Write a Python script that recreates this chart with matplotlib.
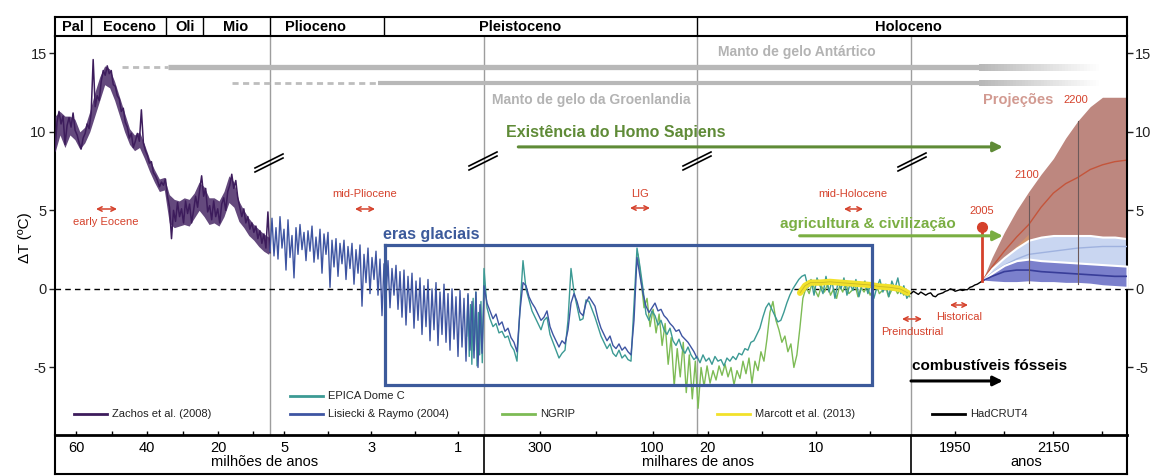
import numpy as np
import matplotlib
matplotlib.use('Agg')
import matplotlib.pyplot as plt
from matplotlib.lines import Line2D
from matplotlib.collections import LineCollection

plt.rcParams['font.family'] = ['Liberation Sans', 'DejaVu Sans']
plt.rcParams['axes.unicode_minus'] = False

W, H = 1153, 476

# ---------------------------------------------------------------- data
def Ma(a):
    return 1950 - np.asarray(a, dtype=float) * 1e6

def ka(a):
    return 1950 - np.asarray(a, dtype=float) * 1e3

# broken time axis (years CE) -> horizontal position
T_BP = [float(Ma(66)), float(Ma(5.33)), float(Ma(0.4)), float(ka(21)), 750.0, 1860.0, 2300.0]
X_BP = [55, 270, 484, 697, 910.9, 911, 1127]

epoch_names = ['Pal', 'Eoceno', 'Oli', 'Mio', 'Plioceno', 'Pleistoceno', 'Holoceno']
epoch_bounds = [Ma(55.9), Ma(34.6), Ma(24.2), Ma(5.33), Ma(2.7), ka(21)]

tick_major = [Ma(60), Ma(40), Ma(20), Ma(5), Ma(3), Ma(1), ka(300), ka(100), ka(20), ka(10), 1950, 2150]
tick_labels = ['60', '40', '20', '5', '3', '1', '300', '100', '20', '10', '1950', '2150']
tick_minor = [Ma(50), Ma(30), Ma(10), Ma(4), Ma(2), ka(200), ka(15), ka(5), 2050, 2250]

# Zachos et al. (2008), 66 -> 5.3 Ma
zachos_dT = [8.8, 10.6, 11.3, 10.5, 11.0, 9.2, 10.4, 10.9, 10.3, 11.2, 10.1, 9.8, 9.3, 8.9, 9.6,
             9.9, 10.5, 10.2, 11.2, 14.6, 11.6, 12.3, 12.0, 13.2, 13.9, 13.6, 14.2, 13.7, 13.9,
             13.0, 12.9, 12.3, 12.1, 11.3, 11.5, 10.6, 10.3, 9.6, 9.9, 9.0, 9.4, 9.9, 9.4, 11.4,
             9.3, 8.8, 8.5, 8.0, 8.1, 7.4, 7.2, 6.9, 6.5, 6.8, 6.6, 7.0, 5.9, 5.2, 3.2, 5.0, 4.3,
             5.5, 4.6, 5.1, 4.2, 5.6, 4.8, 5.4, 4.2, 5.0, 5.9, 5.2, 6.3, 7.2, 5.9, 6.4, 4.9, 5.3,
             4.4, 5.6, 4.6, 5.1, 4.2, 5.4, 5.8, 5.0, 6.2, 6.6, 7.3, 6.4, 6.9, 5.8, 5.2, 4.6, 5.1,
             4.2, 4.6, 3.8, 4.2, 3.6, 4.0, 3.2, 3.7, 2.9, 3.5, 2.6, 4.9, 2.3]
zachos_age_Ma = np.linspace(66, 5.35, len(zachos_dT))
# spread (envelope) of the Zachos record
zachos_upper = [11.0, 11.3, 11.0, 11.0, 10.8, 10.0, 10.3, 11.3, 12.5, 13.5, 14.2, 14.0, 13.2, 12.2,
                11.2, 10.2, 9.8, 10.0, 9.2, 8.3, 7.6, 7.0, 7.1, 6.0, 5.7, 5.6, 5.8, 5.7, 6.1, 6.8,
                6.5, 5.8, 5.8, 5.6, 6.2, 7.2, 6.8, 5.6, 5.0, 4.5, 4.1, 3.8, 3.5, 3.3]
zachos_lower = [8.7, 9.8, 9.0, 9.8, 9.5, 8.9, 9.3, 10.0, 11.0, 12.0, 13.0, 12.8, 12.0, 11.0, 10.0,
                9.2, 8.8, 9.0, 8.3, 7.5, 6.8, 6.2, 6.3, 4.2, 3.9, 4.0, 4.1, 4.0, 4.5, 5.0, 4.6,
                4.1, 4.2, 4.0, 4.6, 5.5, 5.2, 4.3, 3.9, 3.4, 3.1, 2.7, 2.4, 2.2]
zachos_env_age_Ma = np.linspace(66, 5.7, len(zachos_upper))

# Lisiecki & Raymo (2004): 5.33 -> 0.4 Ma, then 400 -> 21 ka
lr04_b_dT = [2.4, 4.5, 2.1, 3.9, 1.9, 4.6, 2.6, 3.8, 1.2, 4.4, 2.0, 3.4, 0.7, 3.9, 2.2, 4.1, 2.5,
             3.6, 1.8, 3.7, 2.4, 4.0, 1.7, 3.3, 1.9, 3.8, 1.0, 3.5, 2.2, 3.6, 0.1, 3.1, 1.4, 3.2,
             0.8, 2.9, 1.6, 3.1, 0.6, 2.7, 1.3, 2.9, 0.3, 2.5, 1.0, 2.8, -1.1, 2.2, 0.4, 2.6, -0.3,
             2.0, 0.6, 2.4, -0.4, 1.9, -1.7, 1.6, -0.6, 1.8, -1.2, 1.3, -0.4, 1.5, -1.3, 1.1, -1.8,
             1.2, -2.3, 0.8, -1.5, 1.0, -2.5, 0.5, -2.0, 0.7, -2.9, 0.2, -2.4, 0.6, -3.3, 0.0,
             -2.6, 0.4, -3.6, -0.2, -2.9, 0.3, -3.4, -0.3, -3.9, 0.0, -3.2, -0.5, -4.3, -0.1,
             -3.7, -0.6, -4.6, -0.3, -3.9, -0.8, -4.4, -0.2, -5.0, -1.0, -4.1, -0.5]
lr04_b_age_Ma = np.linspace(5.33, 0.4, len(lr04_b_dT))
lr04_c_dT = [0.2, -0.9, -1.4, -1.9, -1.6, -2.3, -2.1, -2.7, -2.5, -3.1, -3.4, -4.0, -1.4, 0.4, 0.2,
             -0.5, -0.9, -1.2, -1.6, -2.0, -1.8, -1.4, -2.4, -2.9, -3.3, -3.7, -3.3, -3.5, -2.6,
             -0.9, -0.3, -0.8, -1.5, -1.7, -0.9, -0.5, -0.8, -1.1, -1.9, -2.5, -2.9, -3.3, -3.0,
             -3.6, -3.8, -3.5, -3.9, -3.7, -4.0, -4.2, -2.0, 2.0, 0.8, -0.3, -1.1, -1.5, -1.2,
             -0.9, -1.4, -1.3, -1.7, -1.9, -2.2, -2.4, -2.7, -2.6, -3.0, -3.2, -3.4, -3.7, -4.0, -4.4]
lr04_c_age_ka = np.linspace(400, 21, len(lr04_c_dT))

# EPICA Dome C
epica_b_ka = [800, 770, 740, 710, 680, 650, 620, 590, 560, 530, 500, 470, 440, 420, 402]
epica_b_dT = [-3.0, -0.4, -4.3, -1.0, -4.8, -0.6, -3.9, -0.2, -4.9, -1.5, -4.2, -0.8, -4.7, -1.8, 1.3]
epica_c_dT = [1.3, -1.2, -1.9, -2.4, -2.2, -2.8, -2.7, -3.1, -3.0, -3.6, -3.9, -4.6, -1.2, 1.8, 0.0,
              -0.7, -1.4, -1.8, -2.2, -2.6, -2.0, -1.8, -2.9, -3.4, -3.9, -4.4, -4.1, -3.9, -2.0,
              1.3, -0.2, -1.1, -2.0, -1.9, -0.7, -0.8, -1.3, -1.8, -2.4, -3.0, -3.4, -3.8, -3.5,
              -4.1, -4.3, -3.9, -4.4, -4.2, -4.5, -4.6, -1.0, 2.6, 1.4, 0.0, -1.6, -2.0, -1.4, -1.7,
              -2.3, -2.0, -2.6, -2.9, -2.5, -3.3, -3.6, -3.2, -3.8, -4.1, -3.7, -4.2, -4.5, -4.3]
epica_c_age_ka = np.linspace(400, 21, len(epica_c_dT))
epica_d_dT = [-4.3, -4.7, -4.2, -4.6, -4.4, -4.8, -4.3, -4.6, -4.5, -4.9, -4.4, -4.6, -4.3, -4.5,
              -4.1, -4.2, -3.8, -3.9, -3.4, -3.3, -2.9, -2.5, -1.8, -1.2, -0.9, -1.3, -1.7, -2.1,
              -2.0, -1.5, -0.9, -0.4, 0.0, 0.3, 0.6, 0.8]
epica_d_age_ka = np.linspace(21, 11.3, len(epica_d_dT))
epica_h_dT = [0.9, 0.1, 0.6, -0.4, 0.7, 0.2, -0.3, 0.8, -0.2, 0.5, -0.6, 0.4, 0.0, 0.7, -0.4, 0.3,
              -0.1, 0.6, -0.5, 0.2, 0.5, -0.3, 0.4, -0.6, 0.1, 0.6, -0.2, 0.3, -0.5, 0.5, 0.0, 0.7,
              -0.3, 0.2, -0.6, -0.3]
epica_h_age_ka = np.linspace(11.0, 1.3, len(epica_h_dT))

# NGRIP
ngrip_c_dT = [2.2, 0.6, -1.2, -0.6, -2.4, -1.3, -2.8, -1.6, -3.6, -2.2, -4.8, -3.1, -6.2, -3.8,
              -5.6, -3.4, -6.6, -4.2, -7.0, -4.6]
ngrip_c_age_ka = np.linspace(126, 24, len(ngrip_c_dT))
ngrip_d_dT = [-7.6, -5.0, -6.2, -4.9, -6.0, -5.2, -5.8, -4.9, -5.5, -4.8, -5.6, -5.0, -6.1, -5.2,
              -5.7, -4.6, -5.4, -4.4, -6.0, -4.6, -5.2, -4.0, -4.6, -3.2, -1.5, -0.8, -2.0, -2.6,
              -3.4, -3.0, -4.0, -3.5, -5.0, -4.2, -2.5, -0.6]
ngrip_d_age_ka = np.linspace(20.9, 11.2, len(ngrip_d_dT))
ngrip_h_dT = [0.1, -0.3, 0.4, -0.1, -0.5, 0.2, -0.2, 0.3, -0.4, 0.0, -0.6, 0.2, -0.2, 0.4, -0.3,
              -0.1, 0.3, -0.5, 0.1, -0.2, 0.2, -0.4, 0.0, 0.3, -0.3, -0.1, 0.2, -0.5, -0.1, 0.1,
              -0.3, 0.0, -0.4, -0.2, -0.5]
ngrip_h_age_ka = np.linspace(10.9, 1.3, len(ngrip_h_dT))

# Marcott et al. (2013)
marcott_ka = [11.46, 11.0, 10.5, 9.6, 8.7, 7.8, 6.8, 5.9, 5.0, 4.1, 3.1, 2.2, 1.5]
marcott_dT = [-0.25, 0.2, 0.4, 0.4, 0.45, 0.4, 0.35, 0.3, 0.25, 0.15, 0.1, 0.0, -0.25]

# HadCRUT4
hadcrut_year = list(range(1860, 2006, 5))
hadcrut_dT = [-0.30, -0.15, -0.25, -0.35, -0.20, -0.30, -0.40, -0.30, -0.25, -0.45, -0.50, -0.35,
              -0.30, -0.25, -0.15, -0.10, 0.00, -0.05, -0.15, -0.10, -0.05, -0.10, -0.05, -0.05,
              0.10, 0.15, 0.25, 0.30, 0.40, 0.50]

# projections
proj_year = [2005, 2025, 2050, 2075, 2100, 2125, 2150, 2175, 2200, 2225, 2250, 2275, 2300]
high_upper = [0.5, 2.0, 3.6, 5.0, 6.2, 7.3, 8.3, 9.6, 10.7, 11.6, 12.2, 12.2, 12.2]
high_lower = [0.5, 0.9, 1.4, 1.9, 2.3, 2.5, 2.6, 2.6, 2.6, 2.6, 2.6, 2.6, 2.6]
high_mid = [0.5, 1.4, 2.4, 3.3, 4.1, 5.2, 6.1, 6.7, 7.1, 7.6, 7.9, 8.1, 8.2]
mid_upper = [0.5, 1.3, 2.0, 2.6, 3.1, 3.3, 3.4, 3.4, 3.4, 3.4, 3.3, 3.3, 3.2]
mid_lower = [0.5, 0.8, 1.1, 1.3, 1.45, 1.5, 1.5, 1.5, 1.5, 1.5, 1.45, 1.45, 1.4]
mid_mid = [0.5, 1.0, 1.5, 1.9, 2.2, 2.3, 2.4, 2.5, 2.6, 2.65, 2.7, 2.7, 2.7]
orange_year = [2005, 2050, 2100]
orange_upper = [0.5, 2.0, 3.5]
orange_lower = [0.5, 1.2, 1.6]
low_upper = [0.5, 1.0, 1.5, 1.8, 1.9, 1.8, 1.75, 1.7, 1.65, 1.6, 1.55, 1.5, 1.45]
low_lower = [0.5, 0.45, 0.4, 0.4, 0.45, 0.4, 0.4, 0.35, 0.35, 0.3, 0.2, 0.15, 0.1]
low_mid = [0.5, 0.8, 1.1, 1.2, 1.2, 1.1, 1.05, 1.0, 0.95, 0.9, 0.85, 0.8, 0.8]

# colours
C_ZACHOS = '#3d1c5c'
C_LR04 = '#3e55a2'
C_EPICA = '#3c9a94'
C_NGRIP = '#7dbb55'
C_MARCOTT = '#f2e12a'
RED = '#d5412b'
GRAY = '#b8b8b8'
GREEN_D = '#5f8b37'
GREEN_L = '#7aae42'
BLUE_BOX = '#3c5a9b'

# ---------------------------------------------------------------- figure
def fwd(t):
    return np.interp(t, T_BP, X_BP)

def inv(x):
    return np.interp(x, X_BP, T_BP)

fig = plt.figure(figsize=(W / 100, H / 100), dpi=100)

def fx(px):
    return px / W

def fy(py):
    return 1 - py / H

ax = fig.add_axes([fx(55), fy(435), (1127 - 55) / W, (435 - 36) / H])
axbar = fig.add_axes([fx(55), fy(36), (1127 - 55) / W, (36 - 17) / H])
axbot = fig.add_axes([fx(55), fy(474), (1127 - 55) / W, (474 - 435) / H])
for a in (ax, axbar, axbot):
    a.set_xscale('function', functions=(fwd, inv))
    a.set_xlim(T_BP[0], T_BP[-1])

ax.set_ylim(-9.3, 16.1)
ax.spines['top'].set_visible(False)
for s in ('left', 'right'):
    ax.spines[s].set_linewidth(1.5)
ax.spines['bottom'].set_linewidth(2)
ax.set_yticks([-5, 0, 5, 10, 15])
ax.set_yticklabels(['-5', '0', '5', '10', '15'])
ax.tick_params(axis='y', direction='out', length=4, width=1, left=True, right=True,
               labelleft=True, labelright=True, labelsize=10.5, pad=2, colors='#222222')
ax.set_xticks(tick_major)
ax.set_xticklabels(tick_labels)
ax.set_xticks(tick_minor, minor=True)
ax.tick_params(axis='x', which='both', direction='in', length=3, width=1, top=False,
               labelsize=10.5, pad=4)
ax.tick_params(axis='x', which='minor', labelbottom=False)

# epoch bar
axbar.set_ylim(0, 1)
axbar.set_xticks([]); axbar.set_yticks([])
axbar.set_xticks([], minor=True)
for s in axbar.spines.values():
    s.set_linewidth(1.5)
for b in epoch_bounds:
    axbar.axvline(b, color='k', lw=1)
for name, px in zip(epoch_names, [73, 130, 185, 236, 315, 520, 908]):
    fig.text(fx(px), fy(27), name, ha='center', va='center', fontsize=10.5, fontweight='bold')

# bottom box
axbot.set_ylim(0, 1)
axbot.set_facecolor('none')
axbot.set_xticks([]); axbot.set_yticks([])
axbot.set_xticks([], minor=True)
axbot.spines['top'].set_visible(False)
for s in ('left', 'right', 'bottom'):
    axbot.spines[s].set_linewidth(1.5)
for b in (T_BP[2], T_BP[5]):
    axbot.axvline(b, color='k', lw=1.2)
fig.text(fx(265), fy(462), 'milhões de anos', ha='center', va='center', fontsize=10.5)
fig.text(fx(698), fy(462), 'milhares de anos', ha='center', va='center', fontsize=10.5)
fig.text(fx(1026), fy(462), 'anos', ha='center', va='center', fontsize=10.5)

fig.text(fx(25), fy(238), 'ΔT (ºC)', rotation=90, ha='center', va='center', fontsize=11)

# reference lines
ax.axhline(0, color='k', lw=1, ls=(0, (4, 3)), zorder=1.5)
for b in (T_BP[1], T_BP[2], T_BP[3], T_BP[5]):
    ax.axvline(b, color='#9d9d9d', lw=1, zorder=1)

# ice sheets
def ice_bar(t_dash, t_solid, y, lw):
    ax.plot([t_dash, t_solid], [y, y], color='#bdbdbd', lw=2, ls=(0, (2.2, 1.6)),
            solid_capstyle='butt', zorder=2)
    ax.plot([t_solid, 2005], [y, y], color=GRAY, lw=lw, solid_capstyle='butt', zorder=2)
    ts = np.linspace(2005, 2255, 41)
    segs = [[(ts[i], y), (ts[i + 1], y)] for i in range(40)]
    alphas = np.linspace(1, 0, 40)
    cols = [(1 - 0.28 * a, 1 - 0.28 * a, 1 - 0.28 * a, 1) for a in alphas]
    ax.add_collection(LineCollection(segs, colors=cols, linewidths=lw, capstyle='projecting',
                                     antialiaseds=False, zorder=2))

ice_bar(Ma(47), Ma(34), 14.14, 3.8)
ice_bar(Ma(16), Ma(2.84), 13.12, 3.0)
fig.text(fx(797), fy(52), 'Manto de gelo Antártico', ha='center', va='center', fontsize=10,
         fontweight='bold', color='#b3b3b3')
fig.text(fx(591), fy(100), 'Manto de gelo da Groenlandia', ha='center', va='center',
         fontsize=10, fontweight='bold', color='#b3b3b3')

# climate records
ax.fill_between(Ma(zachos_env_age_Ma), zachos_lower, zachos_upper, color=C_ZACHOS, alpha=0.8,
                lw=0, zorder=3.9)
ax.plot(Ma(zachos_age_Ma), zachos_dT, color=C_ZACHOS, lw=1.1, zorder=4)
lr04_t = np.concatenate([Ma(lr04_b_age_Ma), ka(lr04_c_age_ka)])
lr04_v = lr04_b_dT + lr04_c_dT
ngrip_t = np.concatenate([ka(ngrip_c_age_ka), ka(ngrip_d_age_ka), ka(ngrip_h_age_ka)])
ngrip_v = ngrip_c_dT + ngrip_d_dT + ngrip_h_dT
ax.plot(ngrip_t, ngrip_v, color=C_NGRIP, lw=1.0, zorder=3)
epica_t = np.concatenate([ka(epica_b_ka), ka(epica_c_age_ka), ka(epica_d_age_ka), ka(epica_h_age_ka)])
epica_v = epica_b_dT + epica_c_dT + epica_d_dT + epica_h_dT
ax.plot(epica_t, epica_v, color=C_EPICA, lw=1.0, zorder=3.5)
ax.plot(lr04_t, lr04_v, color=C_LR04, lw=1.0, zorder=4)
ax.plot(ka(marcott_ka), marcott_dT, color=C_MARCOTT, lw=4.5, zorder=5, solid_capstyle='round')
ax.plot(ka(marcott_ka), marcott_dT, color='#c9b926', lw=0.6, zorder=5.1)
ax.plot(hadcrut_year, hadcrut_dT, color='k', lw=1.0, zorder=5)

# projections
ax.fill_between(proj_year, high_lower, high_upper, color='#bd877f', lw=0, zorder=2.2)
ax.fill_between(orange_year, orange_lower, orange_upper, color='#e3a060', alpha=0.55, lw=0, zorder=2.3)
ax.plot(proj_year, high_mid, color='#c4553b', lw=1.0, zorder=2.4)
ax.fill_between(proj_year, mid_lower, mid_upper, facecolor='#c9d6f1', edgecolor='white',
                lw=1.5, zorder=2.5)
ax.plot(proj_year, mid_mid, color='#9fb2df', lw=1.0, zorder=2.6)
ax.fill_between(proj_year, low_lower, low_upper, facecolor='#7b80cc', edgecolor='white',
                lw=1.5, zorder=2.7)
ax.plot(proj_year, low_mid, color='#383d99', lw=1.2, zorder=2.8)
ax.plot([2100, 2100], [0.4, 5.9], color='#6d5a5a', lw=0.8, zorder=2.9)
ax.plot([2200, 2200], [0.3, 10.7], color='#6d5a5a', lw=0.8, zorder=2.9)
ax.plot([2005, 2005], [0.5, 3.95], color=RED, lw=2, zorder=6)
ax.plot([2005], [3.95], 'o', color=RED, ms=7, zorder=6)

# glacial box
gx = [Ma(2.68), ka(4.8), ka(4.8), Ma(2.68), Ma(2.68)]
gy = [2.8, 2.8, -6.1, -6.1, 2.8]
ax.plot(gx, gy, color=BLUE_BOX, lw=2.3, zorder=6, solid_joinstyle='miter')
fig.text(fx(431), fy(235), 'eras glaciais', ha='center', va='center', fontsize=11.5,
         fontweight='bold', color=BLUE_BOX)

# big arrows
def big_arrow(t0, t1, y, color):
    ax.annotate('', xy=(t1, y), xytext=(t0, y),
                arrowprops=dict(arrowstyle='-|>', color=color, lw=2.2, mutation_scale=14,
                                shrinkA=0, shrinkB=0), zorder=6)

big_arrow(ka(339), 2047, 9.04, GREEN_D)
big_arrow(ka(11.5), 2047, 3.38, GREEN_L)
big_arrow(1860, 2047, -5.86, 'k')
fig.text(fx(616), fy(133), 'Existência do Homo Sapiens', ha='center', va='center',
         fontsize=11.5, fontweight='bold', color=GREEN_D)
fig.text(fx(868), fy(224), 'agricultura & civilização', ha='center', va='center',
         fontsize=11, fontweight='bold', color=GREEN_L)
fig.text(fx(990), fy(366), 'combustíveis fósseis', ha='center', va='center',
         fontsize=11, fontweight='bold', color='k')

# red period markers
def period(px0, px1, py, label, lx, ly):
    fig.add_artist(plt.Annotation('', xy=(px1, H - py), xytext=(px0, H - py),
                                  xycoords='figure pixels', textcoords='figure pixels',
                                  arrowprops=dict(arrowstyle='<->', color=RED, lw=1.1,
                                                  shrinkA=0, shrinkB=0, mutation_scale=8)))
    fig.text(fx(lx), fy(ly), label, ha='center', va='center', fontsize=8, color=RED)

period(96, 117, 209, 'early Eocene', 106, 222)
period(355, 375, 209, 'mid-Pliocene', 365, 194)
period(630, 650, 208, 'LIG', 640, 194)
period(844, 863, 209, 'mid-Holocene', 853, 194)
period(902, 922, 319, 'Preindustrial', 912, 332)
period(950, 968, 305, 'Historical', 959, 317)
fig.text(fx(982), fy(211), '2005', ha='center', va='center', fontsize=8, color=RED)
fig.text(fx(1027), fy(175), '2100', ha='center', va='center', fontsize=8, color=RED)
fig.text(fx(1076), fy(100), '2200', ha='center', va='center', fontsize=8, color=RED)
fig.text(fx(1018), fy(100), 'Projeções', ha='center', va='center', fontsize=10.5,
         fontweight='bold', color='#d29a91')

# axis-break marks
for cx, cy in [(269, 163), (483, 161), (697, 161), (912, 162)]:
    for off in (-2, 2):
        fig.add_artist(Line2D([fx(cx - 14), fx(cx + 14)], [fy(cy + 7 + off), fy(cy - 7 + off)],
                              transform=fig.transFigure, color='k', lw=1.2))

# legend
legend_items = [
    (290, 396, C_EPICA, 'EPICA Dome C'),
    (290, 414, C_LR04, 'Lisiecki & Raymo (2004)'),
    (74, 414, C_ZACHOS, 'Zachos et al. (2008)'),
    (502, 414, C_NGRIP, 'NGRIP'),
    (717, 414, C_MARCOTT, 'Marcott et al. (2013)'),
    (932, 414, 'k', 'HadCRUT4'),
]
for px, py, c, lab in legend_items:
    fig.add_artist(Line2D([fx(px), fx(px + 33)], [fy(py), fy(py)], transform=fig.transFigure,
                          color=c, lw=2))
    fig.text(fx(px + 38), fy(py), lab, ha='left', va='center', fontsize=8, color='#222222')

fig.savefig('out.png', dpi=100)
